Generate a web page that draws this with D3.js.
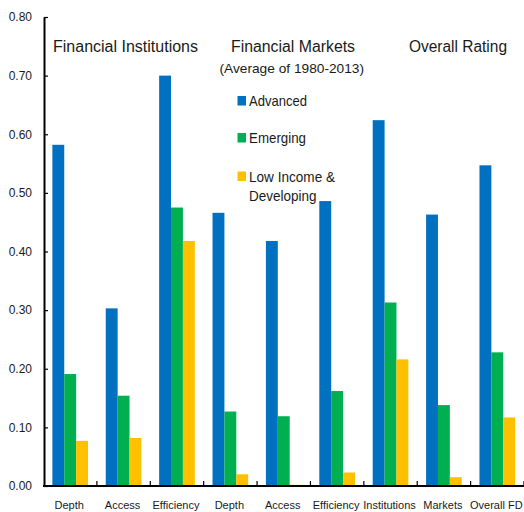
<!DOCTYPE html>
<html>
<head>
<meta charset="utf-8">
<script src="https://cdn.jsdelivr.net/npm/d3@7/dist/d3.min.js"></script>
<style>
  html, body { margin: 0; padding: 0; background: #fff; }
  text { font-family: "Liberation Sans", Arial, sans-serif; fill: #1a1a1a; }
</style>
</head>
<body>
<svg id="chart" width="524" height="512"></svg>
<script>
const categories = ["Depth", "Access", "Efficiency", "Depth", "Access", "Efficiency", "Institutions", "Markets", "Overall FD"];
const seriesNames = ["Advanced", "Emerging", "Low Income & Developing"];
const advanced  = [0.582, 0.303, 0.700, 0.466, 0.418, 0.486, 0.624, 0.463, 0.547];
const emerging  = [0.191, 0.154, 0.475, 0.127, 0.119, 0.162, 0.313, 0.138, 0.228];
const lowIncome = [0.077, 0.082, 0.418, 0.020, 0.002, 0.023, 0.216, 0.015, 0.117];
const yTicks = [0, 0.1, 0.2, 0.3, 0.4, 0.5, 0.6, 0.7, 0.8];
const colors = ["#0070C0", "#00B050", "#FFC000"];

const seriesValues = [advanced, emerging, lowIncome];
const svg = d3.select("#chart");

const x = d3.scaleBand().domain(d3.range(categories.length)).range([43.5, 524]).padding(0);
const xSub = d3.scaleBand().domain(d3.range(seriesNames.length))
  .range([x.bandwidth() * 0.166, x.bandwidth() * 0.834]).padding(0);
const y = d3.scaleLinear().domain([0, 0.8]).range([486, 17]);

// bars
const groups = svg.append("g").selectAll("g")
  .data(categories.map((c, i) => i))
  .join("g")
  .attr("transform", i => `translate(${x(i)},0)`);
groups.selectAll("rect")
  .data(i => seriesValues.map((s, k) => ({ k, v: s[i] })))
  .join("rect")
  .attr("x", d => xSub(d.k))
  .attr("width", xSub.bandwidth())
  .attr("y", d => y(d.v))
  .attr("height", d => y(0) - y(d.v))
  .attr("fill", d => colors[d.k]);

// y axis
const yAxis = d3.axisLeft(y).tickValues(yTicks).tickFormat(d3.format(".2f"))
  .tickSizeInner(-4).tickSizeOuter(0).tickPadding(12);
const gy = svg.append("g").attr("transform", "translate(44,0)").call(yAxis);
gy.select(".domain").attr("stroke", "#000").attr("stroke-width", 2);
gy.selectAll(".tick line").attr("stroke", "#000").attr("stroke-width", 1.2);
gy.selectAll(".tick text").style("font-size", "12px").style("font-family", "Liberation Sans, Arial, sans-serif").attr("fill", "#1a1a1a");

// x axis line
svg.append("line").attr("x1", 43).attr("x2", 524).attr("y1", y(0)).attr("y2", y(0))
  .attr("stroke", "#000").attr("stroke-width", 2);
// boundary ticks
svg.append("g").selectAll("line")
  .data(d3.range(categories.length))
  .join("line")
  .attr("x1", i => x(i) + x.bandwidth()).attr("x2", i => x(i) + x.bandwidth())
  .attr("y1", y(0)).attr("y2", y(0) - 5)
  .attr("stroke", "#000").attr("stroke-width", 1.2);
// category labels
svg.append("g").selectAll("text")
  .data(categories)
  .join("text")
  .attr("x", (c, i) => x(i) + x.bandwidth() / 2 - 1)
  .attr("y", 509)
  .attr("text-anchor", "middle")
  .style("font-size", "11px")
  .text(c => c);

// section titles
const titles = [
  { t: "Financial Institutions", x: 53, y: 52, w: 145, s: 16 },
  { t: "Financial Markets", x: 231, y: 52, w: 124, s: 16 },
  { t: "(Average of 1980-2013)", x: 219.5, y: 72.5, w: 144.5, s: 13.5 },
  { t: "Overall Rating", x: 409, y: 52, w: 98, s: 16 }
];
svg.append("g").selectAll("text").data(titles).join("text")
  .attr("x", d => d.x).attr("y", d => d.y)
  .attr("textLength", d => d.w).attr("lengthAdjust", "spacingAndGlyphs")
  .style("font-size", d => d.s + "px")
  .text(d => d.t);

// legend
const legendRows = [
  { k: 0, sy: 96, lines: [{ t: "Advanced", w: 58 }] },
  { k: 1, sy: 133, lines: [{ t: "Emerging", w: 57 }] },
  { k: 2, sy: 171.5, lines: [{ t: "Low Income &", w: 86 }, { t: "Developing", w: 67.5 }] }
];
const lg = svg.append("g");
legendRows.forEach(r => {
  lg.append("rect").attr("x", 237.5).attr("y", r.sy).attr("width", 8.5).attr("height", 9.5)
    .attr("fill", colors[r.k]);
  r.lines.forEach((ln, j) => {
    lg.append("text").attr("x", 249).attr("y", r.sy + 10 + j * 19.5)
      .attr("textLength", ln.w).attr("lengthAdjust", "spacingAndGlyphs")
      .style("font-size", "15px").text(ln.t);
  });
});
</script>
</body>
</html>
